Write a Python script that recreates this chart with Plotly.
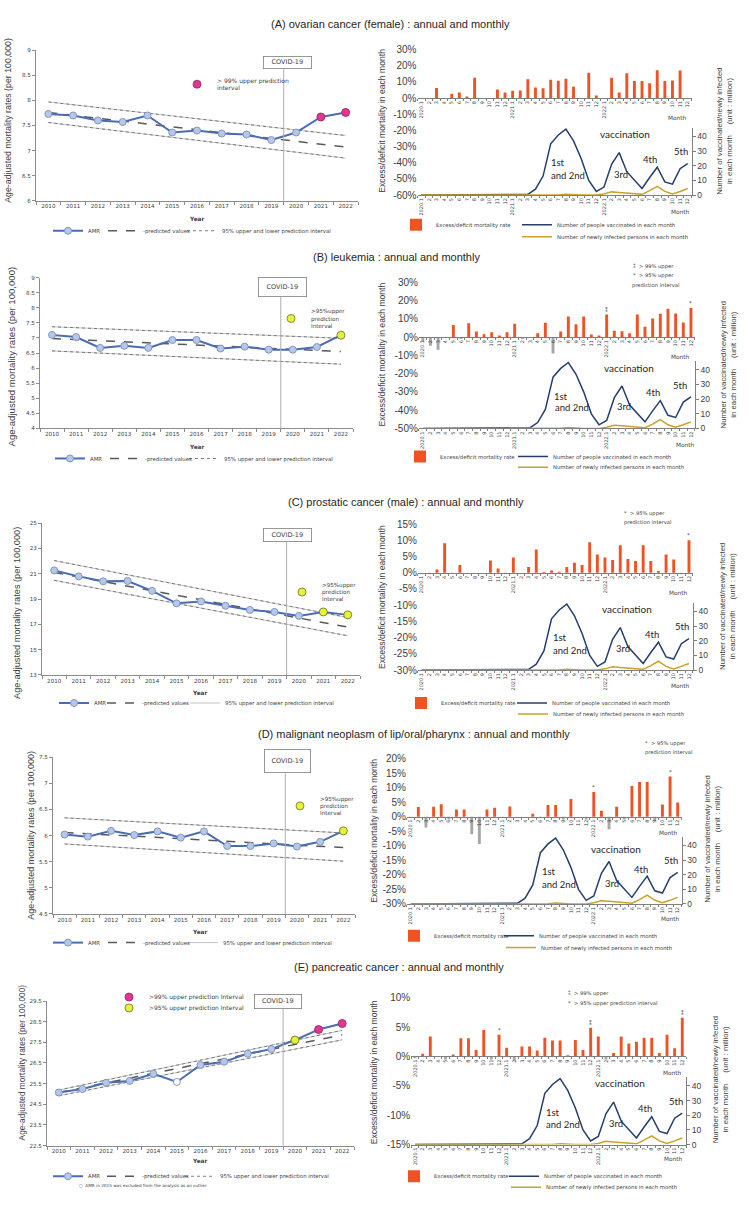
import plotly.graph_objects as go

W, H = 750, 1208
def X(px): return px / W
def Y(py): return 1 - py / H

# ---------------- data ----------------
years = list(range(2010, 2023))
months = (["2020.1"] + [str(m) for m in range(2, 13)] +
          ["2021.1"] + [str(m) for m in range(2, 13)] +
          ["2022.1"] + [str(m) for m in range(2, 13)])
covid_x = 2019.5
pred_years = [2010, 2022]

# (A) ovarian cancer
amr_A = [7.73, 7.70, 7.60, 7.57, 7.70, 7.36, 7.40, 7.34, 7.32, 7.21, 7.36, 7.67, 7.76]
pred_A = [7.76, 7.07]
upper_A = [7.97, 7.30]
lower_A = [7.56, 6.85]
sig99_A = [2021, 2022]
sig95_A = []
excess_A = [0, 0, 6.2, 0, 2.7, 3.5, 1.0, 12.5, 0, 0, 5.3, 3.5,
            4.5, 4.7, 11.7, 6.6, 6.0, 11.3, 10.7, 11.9, 7.0, 0, 15.6, 1.6,
            0, 12.5, 3.5, 15.4, 10.5, 10.5, 9.2, 17.2, 10.5, 10.9, 17.0, 0]
star_idx_A = []
star_sym_A = []

# (B) leukemia
amr_B = [7.10, 7.03, 6.67, 6.74, 6.67, 6.93, 6.93, 6.65, 6.71, 6.61, 6.61, 6.70, 7.09]
pred_B = [6.98, 6.55]
upper_B = [7.37, 6.99]
lower_B = [6.57, 6.13]
sig99_B = []
sig95_B = [2022]
excess_B = [-2.1, -4.8, -7.0, 0, 6.6, -1.0, 7.5, 3.0, 1.6, 2.7, 0.9, 2.7,
            7.3, -1.0, -0.5, 2.1, 7.9, -9.0, 3.0, 11.2, 7.0, 11.2, 1.4, 0.9,
            12.3, 3.4, 3.2, 2.1, 12.3, 5.7, 10.2, 12.7, 15.5, 12.9, 8.0, 15.9]
star_idx_B = [24, 35]
star_sym_B = ["⁑", "*"]

# (C) prostatic cancer
amr_C = [21.26, 20.79, 20.40, 20.43, 19.65, 18.66, 18.81, 18.47, 18.14, 17.98, 17.67, 17.98, 17.75]
pred_C = [21.10, 16.78]
upper_C = [22.04, 17.54]
lower_C = [20.48, 16.10]
sig99_C = []
sig95_C = [2021, 2022]
excess_C = [0, -0.5, 1.0, 9.1, -0.3, 2.4, 0, 0, 0, 3.8, 1.3, -0.5,
            4.7, 0, 1.8, 7.2, 0.2, 0.7, 0.3, 1.8, 3.1, 2.4, 9.4, 5.6,
            4.7, 3.9, 8.5, 4.2, 3.6, 8.5, 3.6, 0.5, 5.6, 4.1, -0.5, 10.0]
star_idx_C = [35]
star_sym_C = ["*"]

# (D) malignant neoplasm of lip/oral/pharynx
amr_D = [6.02, 5.98, 6.09, 6.01, 6.08, 5.96, 6.08, 5.80, 5.80, 5.85, 5.79, 5.88, 6.09]
pred_D = [6.06, 5.77]
upper_D = [6.34, 6.05]
lower_D = [5.84, 5.51]
sig99_D = []
sig95_D = [2022]
excess_D = [-0.5, 3.3, -3.7, 3.4, 4.3, -1.0, 2.5, 2.5, -6.0, -9.4, 2.5, 3.1,
            -0.5, 3.5, 0, 0, 1.0, -0.5, 4.0, 4.0, -1.0, 6.1, 0, -1.0,
            8.5, 2.0, -4.3, 3.4, -1.0, 10.5, 11.9, 11.9, -1.5, 4.2, 13.8, 4.9]
star_idx_D = [24, 34]
star_sym_D = ["*", "*"]

# (E) pancreatic cancer
amr_E = [25.07, 25.24, 25.54, 25.63, 25.98, 25.58, 26.40, 26.56, 26.95, 27.17, 27.61, 28.12, 28.41]
pred_E = [25.07, 27.86]
upper_E = [25.19, 28.08]
lower_E = [24.91, 27.62]
sig99_E = [2021, 2022]
sig95_E = [2020]
outlier_E = [2015]
excess_E = [-0.3, 0.45, 3.4, 0, -0.5, 0.35, 3.1, 3.1, 1.1, 4.5, -0.5, 3.7,
            1.5, -0.7, 1.7, 1.7, 1.0, 3.2, 2.7, 2.7, 0.2, 2.8, 1.1, 4.9,
            3.4, -0.5, 0.6, 3.4, 2.2, 2.5, 3.2, 3.2, 0.6, 3.7, 1.4, 6.6]
star_idx_E = [11, 23, 35]
star_sym_E = ["*", "⁑", "⁑"]

# vaccinated / newly infected persons (million), 2020.1 - 2022.12
vaccinated = [0, 0, 0, 0, 0, 0, 0, 0, 0, 0, 0, 0,
              0, 0, 0.5, 4, 13, 35, 41, 45, 37, 25, 10, 2.5,
              5.5, 21, 29, 16, 10, 4.5, 12, 19, 9, 7.5, 18, 21.5]
infected = [0, 0, 0, 0.01, 0.01, 0, 0.02, 0.03, 0.01, 0.02, 0.04, 0.08,
            0.15, 0.05, 0.03, 0.1, 0.15, 0.05, 0.1, 0.6, 0.2, 0.02, 0.01, 0.01,
            0.8, 2.2, 1.8, 1.4, 1.0, 0.5, 3.0, 6.0, 2.5, 0.8, 2.5, 4.5]
vacc_ticks = [0, 10, 20, 30, 40]

titles = ["(A) ovarian cancer (female) : annual and monthly",
          "(B) leukemia : annual and monthly",
          "(C) prostatic cancer (male) : annual and monthly",
          "(D) malignant neoplasm of lip/oral/pharynx : annual and monthly",
          "(E) pancreatic cancer : annual and monthly"]

# ---------------- styles ----------------
C_AMR = "#4A6CB3"
C_MK = "#B7C8E6"
C_MKL = "#7F96C8"
C_99 = "#E0388F"
C_95 = "#E4F23A"
C_BAR = "#F05323"
C_NEG = "#A6A6A6"
C_VAC = "#243F6B"
C_INF = "#C9A227"
C_TXT = "#404040"
C_AX = "#8C8C8C"
SANS = "Liberation Sans"
SMALL = "DejaVu Sans"
CAL = "Lato"

panels = [
    dict(amr=amr_A, pred=pred_A, up=upper_A, lo=lower_A, s99=sig99_A, s95=sig95_A, out=[],
         exc=excess_A, sidx=star_idx_A, ssym=star_sym_A, title=titles[0],
         tpos=(390, 18), lx=(36, 358), ly=(44.7, 196.7), lr=(6, 9), ldt=0.5,
         lyt=(8, 116, 8.8), year=(197, 215), leg=(227, 88, 143, 222), istyle="dot",
         covid=(263, 312, 51, 64),
         spec=[("99", 204, 79, "> 99% upper prediction<br>interval", 6.0)],
         rx=(417.5, 691.5), ry=(44, 191), rr=(-60, 30), rdt=10,
         ryt=(382, 116), r2t=(725, 127), mup=(677, 113), mlo=(680, 208),
         rleg=((436, 221), (557, 221), (557, 233)),
         vt=[("vaccination", 597.7, 129), ("1st", 549, 158.3), ("and 2nd", 549, 171),
             ("3rd", 612.3, 170), ("4th", 641, 155), ("5th", 671.7, 147)],
         sl=[]),
    dict(amr=amr_B, pred=pred_B, up=upper_B, lo=lower_B, s99=sig99_B, s95=sig95_B, out=[],
         exc=excess_B, sidx=star_idx_B, ssym=star_sym_B, title=titles[1],
         tpos=(396, 254), lx=(40, 353), ly=(274.3, 426.7), lr=(4, 9), ldt=0.5,
         lyt=(11, 354, 9.6), year=(197, 445), leg=(457, 90, 145, 224), istyle="dot",
         covid=(258, 307, 274, 294),
         spec=[("95", 298, 315.7, ">95%upper<br>prediction<br>Interval", 5.6)],
         rx=(418.9, 694.8), ry=(279, 426.7), rr=(-50, 30), rdt=10,
         ryt=(382, 352), r2t=(728, 363), mup=(680, 355), mlo=(685, 443),
         rleg=((440, 455), (553, 455), (553, 466)),
         vt=[("vaccination", 601.7, 365.7), ("1st", 551.7, 394), ("and 2nd", 552.7, 405.7),
             ("3rd", 615, 405), ("4th", 644.3, 390.7), ("5th", 671, 383)],
         sl=[("⁑  > 99% upper", 631, 263), ("*  > 95% upper", 631, 272),
             ("prediction interval", 630, 282)]),
    dict(amr=amr_C, pred=pred_C, up=upper_C, lo=lower_C, s99=sig99_C, s95=sig95_C, out=[],
         exc=excess_C, sidx=star_idx_C, ssym=star_sym_C, title=titles[2],
         tpos=(406, 501), lx=(42, 360), ly=(522.3, 675.7), lr=(13, 25), ldt=2,
         lyt=(17, 613, 9.2), year=(200, 694), leg=(704, 94, 142, 225), istyle="solid",
         covid=(263, 312, 527, 541),
         spec=[("95", 309, 592, ">95%upper<br>prediction<br>Interval", 5.6)],
         rx=(417.9, 692.8), ry=(523.3, 670.7), rr=(-30, 15), rdt=5,
         ryt=(382, 597), r2t=(728, 607), mup=(678, 592.7), mlo=(680, 687),
         rleg=((441, 704), (552, 704), (553, 715)),
         vt=[("vaccination", 600, 609.3), ("1st", 551, 637.7), ("and 2nd", 551, 650.7),
             ("3rd", 614.3, 649), ("4th", 642.7, 634.7), ("5th", 672.7, 626.7)],
         sl=[("*  > 95% upper", 622, 513), ("prediction interval", 622, 522)]),
    dict(amr=amr_D, pred=pred_D, up=upper_D, lo=lower_D, s99=sig99_D, s95=sig95_D, out=[],
         exc=excess_D, sidx=star_idx_D, ssym=star_sym_D, title=titles[3],
         tpos=(414, 735), lx=(53, 355), ly=(758.7, 917.1), lr=(4.5, 7.5), ldt=0.5,
         lyt=(31, 838, 9.0), year=(200, 935), leg=(946, 88, 143, 223), istyle="solid",
         covid=(264, 311, 751, 775),
         spec=[("95", 307, 808, ">95%upper<br>prediction<br>Interval", 5.6)],
         rx=(406.9, 681.5), ry=(760, 907), rr=(-30, 20), rdt=5,
         ryt=(374, 833), r2t=(713, 842), mup=(668, 835), mlo=(670, 922),
         rleg=((434, 939), (539, 939), (541, 951)),
         vt=[("vaccination", 589, 851), ("1st", 540, 874.3), ("and 2nd", 540, 887.3),
             ("3rd", 602.7, 886), ("4th", 631.7, 871.7), ("5th", 662.3, 863.3)],
         sl=[("*  > 95% upper", 643, 745), ("prediction interval", 643, 754)]),
    dict(amr=amr_E, pred=pred_E, up=upper_E, lo=lower_E, s99=sig99_E, s95=sig95_E, out=outlier_E,
         exc=excess_E, sidx=star_idx_E, ssym=star_sym_E, title=titles[4],
         tpos=(399, 971), lx=(47, 354), ly=(1005, 1151), lr=(22.5, 29.5), ldt=1,
         lyt=(22, 1067, 8.3), year=(200, 1167), leg=(1182, 88, 142, 220), istyle="dot",
         covid=(254, 302, 998, 1013),
         spec=[("99", 136, 1001, ">99% upper prediction Interval", 6.0),
               ("95", 136, 1012, ">95% upper prediction Interval", 6.0)],
         rx=(411.2, 686.1), ry=(1001.7, 1150), rr=(-15, 10), rdt=5,
         ryt=(374, 1077), r2t=(720, 1085), mup=(672, 1077.7), mlo=(673, 1165),
         rleg=((434, 1182), (544, 1182), (546, 1193)),
         vt=[("vaccination", 593.3, 1088.3), ("1st", 544.3, 1117.3), ("and 2nd", 544.3, 1130),
             ("3rd", 607.3, 1129), ("4th", 636, 1114), ("5th", 666.7, 1106.7)],
         sl=[("⁑  > 99% upper", 566, 997), ("*  > 95% upper prediction interval", 566, 1007.7)]),
]

# ---------------- build ----------------
fig = go.Figure()
layout = dict(width=W, height=H, margin=dict(l=0, r=0, t=0, b=0),
              paper_bgcolor="white", plot_bgcolor="rgba(0,0,0,0)",
              barmode="overlay", showlegend=True, hovermode=False,
              font=dict(family=SMALL, size=6, color=C_TXT))
annotations = []
shapes = []
legn = [0]


def ref(k, n):
    return k if n == 1 else f"{k}{n}"


def axn(k, n):
    return f"{k}axis" if n == 1 else f"{k}axis{n}"


def new_legend(text_x, ypx, size=5.4, orient="h"):
    """legend whose item text starts at text_x (px)"""
    legn[0] += 1
    name = "legend" if legn[0] == 1 else f"legend{legn[0]}"
    layout[name] = dict(x=X(text_x - 40), y=Y(ypx), xanchor="left", yanchor="middle",
                        orientation=orient, bgcolor="rgba(0,0,0,0)", borderwidth=0,
                        itemwidth=30, tracegroupgap=0, itemclick=False,
                        font=dict(family=SMALL, size=size, color=C_TXT))
    return name


def text(xpx, ypx, s, size=6, family=SMALL, color=C_TXT, xanchor="center", angle=0):
    annotations.append(dict(x=X(xpx), y=Y(ypx), xref="paper", yref="paper", text=s,
                            showarrow=False, xanchor=xanchor, yanchor="middle",
                            textangle=angle, font=dict(family=family, size=size, color=color)))


idx = list(range(len(months)))

for r, P in enumerate(panels):
    n1, n2, n3 = 3 * r + 1, 3 * r + 2, 3 * r + 3
    xl, yl = ref("x", n1), ref("y", n1)

    # ---- title ----
    text(P["tpos"][0], P["tpos"][1], P["title"], size=11, family=SANS, color="#262626")

    # ---- left annual panel axes ----
    lr0, lr1 = P["lr"]
    nt = int(round((lr1 - lr0) / P["ldt"])) + 1
    ltv = [lr0 + i * P["ldt"] for i in range(nt)]
    layout[axn("x", n1)] = dict(domain=[X(P["lx"][0]), X(P["lx"][1])], anchor=yl,
                                range=[years[0] - 0.5, years[-1] + 0.5],
                                tickvals=years, ticktext=[str(y) for y in years], ticks="",
                                showline=True, linecolor=C_AX, linewidth=1,
                                showgrid=False, zeroline=False,
                                tickfont=dict(family=SMALL, size=5.6, color=C_TXT),
                                minor=dict(tickvals=[y - 0.5 for y in years] + [years[-1] + 0.5],
                                           ticks="outside", ticklen=3, tickcolor=C_AX))
    layout[axn("y", n1)] = dict(domain=[Y(P["ly"][1]), Y(P["ly"][0])], anchor=xl,
                                range=[lr0, lr1], tickvals=ltv,
                                ticktext=[f"{v:g}" for v in ltv], ticks="outside",
                                ticklen=3, tickcolor=C_AX,
                                showline=True, linecolor=C_AX, linewidth=1,
                                showgrid=False, zeroline=False,
                                tickfont=dict(family=SMALL, size=5.6, color=C_TXT))

    ly_, t_amr, t_pred, t_int = P["leg"]
    lgA = new_legend(t_amr, ly_, size=5.4)
    lgP = new_legend(t_pred, ly_, size=5.4)
    lgI = new_legend(t_int, ly_, size=5.4)
    solid_leg = P["istyle"] == "solid"
    for k, band in enumerate([P["up"], P["lo"]]):
        fig.add_trace(go.Scatter(x=pred_years, y=band, mode="lines", xaxis=xl, yaxis=yl,
                                 line=dict(color="#C4C4C4", width=1),
                                 name="95% upper and lower prediction interval",
                                 legend=lgI, showlegend=(solid_leg and k == 0),
                                 hoverinfo="skip"))
    for k, band in enumerate([P["up"], P["lo"]]):
        fig.add_trace(go.Scatter(x=pred_years, y=band, mode="lines", xaxis=xl, yaxis=yl,
                                 line=dict(color="#6E6E6E", width=0.9, dash="dot"),
                                 name="95% upper and lower prediction interval",
                                 legend=lgI, showlegend=((not solid_leg) and k == 0),
                                 hoverinfo="skip"))
    fig.add_trace(go.Scatter(x=pred_years, y=P["pred"], mode="lines", xaxis=xl, yaxis=yl,
                             line=dict(color="#595959", width=1.5, dash="dash"),
                             name="-predicted values", legend=lgP))
    fills = ["white" if y in P["out"] else C_MK for y in years]
    fig.add_trace(go.Scatter(x=years, y=P["amr"], mode="lines+markers", xaxis=xl, yaxis=yl,
                             line=dict(color=C_AMR, width=2),
                             marker=dict(size=7, color=fills, line=dict(color=C_MKL, width=1)),
                             name="AMR", legend=lgA))

    # special markers (> prediction interval)
    for kind, mx, my, lab, fs in P["spec"]:
        sel = P["s99"] if kind == "99" else P["s95"]
        col = C_99 if kind == "99" else C_95
        lcol = "#A0205F" if kind == "99" else "#6E7320"
        lg = new_legend(mx + 13, my, size=fs, orient="v")
        fig.add_trace(go.Scatter(x=sel, y=[P["amr"][years.index(y)] for y in sel],
                                 mode="markers", xaxis=xl, yaxis=yl,
                                 marker=dict(size=8, color=col, line=dict(color=lcol, width=0.8)),
                                 name=lab, legend=lg))

    # COVID-19 box and line
    c0, c1, c2, c3 = P["covid"]
    annotations.append(dict(x=X((c0 + c1) / 2), y=Y((c2 + c3) / 2), xref="paper", yref="paper",
                            text="COVID-19", showarrow=False, xanchor="center", yanchor="middle",
                            font=dict(family=SMALL, size=6.5, color=C_TXT),
                            bordercolor="#7F7F7F", borderwidth=0.8, borderpad=0,
                            width=c1 - c0 - 2, height=c3 - c2 - 2, bgcolor="white"))
    shapes.append(dict(type="line", xref=xl, yref="paper", x0=covid_x, x1=covid_x,
                       y0=Y(P["ly"][1]), y1=Y(c3), line=dict(color="#AFAFAF", width=1)))

    text(P["lyt"][0], P["lyt"][1], "Age-adjusted mortality rates (per 100,000)",
         size=P["lyt"][2], family=SANS, angle=-90)
    text(P["year"][0], P["year"][1], "<b>Year</b>", size=5.8)

    # ---- right monthly panel ----
    rx0, rx1 = P["rx"]
    ry0, ry1 = P["ry"]
    rr0, rr1 = P["rr"]
    zero_px = ry0 + rr1 / (rr1 - rr0) * (ry1 - ry0)
    ntr = int(round((rr1 - rr0) / P["rdt"])) + 1
    ptv = [rr1 - i * P["rdt"] for i in range(ntr)]
    vmax = 46
    vtop = ry1 - vmax * 1.48
    month_common = dict(domain=[X(rx0), X(rx1)], range=[-0.5, len(months) - 0.5],
                        tickvals=idx, ticktext=months, tickangle=-90, ticks="",
                        showline=True, linecolor="#7F7F7F", linewidth=1,
                        showgrid=False, zeroline=False,
                        tickfont=dict(family=SMALL, size=5.0, color=C_TXT),
                        minor=dict(tickvals=[i - 0.5 for i in idx] + [len(months) - 0.5],
                                   ticks="outside", ticklen=2, tickcolor="#7F7F7F"))
    layout[axn("x", n2)] = dict(anchor="free", position=Y(zero_px), **month_common)
    layout[axn("y", n2)] = dict(domain=[Y(ry1), Y(ry0)], anchor=ref("x", n2),
                                range=[rr0, rr1], tickvals=ptv,
                                ticktext=[f"{v}%" for v in ptv], ticks="", showline=False,
                                showgrid=False, zeroline=False,
                                tickfont=dict(family=SANS, size=10, color=C_TXT))
    layout[axn("x", n3)] = dict(anchor=ref("y", n3), **month_common)
    layout[axn("y", n3)] = dict(domain=[Y(ry1), Y(vtop)], anchor=ref("x", n3), side="right",
                                range=[0, vmax], tickvals=vacc_ticks,
                                ticktext=[str(v) for v in vacc_ticks],
                                ticks="outside", ticklen=3, tickcolor="#7F7F7F",
                                showline=True, linecolor="#7F7F7F", linewidth=1,
                                showgrid=False, zeroline=False,
                                tickfont=dict(family=SANS, size=8.5, color=C_TXT))

    lgB = new_legend(P["rleg"][0][0], P["rleg"][0][1], size=5.3)
    lgV = new_legend(P["rleg"][1][0], P["rleg"][1][1], size=5.3)
    lgN = new_legend(P["rleg"][2][0], P["rleg"][2][1], size=5.3)

    fig.add_trace(go.Bar(x=idx, y=[v if v > 0 else None for v in P["exc"]],
                         xaxis=ref("x", n2), yaxis=ref("y", n2), width=0.38,
                         marker=dict(color=C_BAR, line=dict(width=0)),
                         name="Excess/deficit mortality rate", legend=lgB))
    fig.add_trace(go.Bar(x=idx, y=[v if v < 0 else None for v in P["exc"]],
                         xaxis=ref("x", n2), yaxis=ref("y", n2), width=0.38,
                         marker=dict(color=C_NEG, line=dict(width=0)),
                         name="deficit", showlegend=False, legend=lgB))
    fig.add_trace(go.Scatter(x=idx, y=vaccinated, mode="lines",
                             xaxis=ref("x", n3), yaxis=ref("y", n3),
                             line=dict(color=C_VAC, width=1.5),
                             name="Number of people vaccinated in each month", legend=lgV))
    fig.add_trace(go.Scatter(x=idx, y=infected, mode="lines",
                             xaxis=ref("x", n3), yaxis=ref("y", n3),
                             line=dict(color=C_INF, width=1.5),
                             name="Number of newly infected persons in each month", legend=lgN))

    # stars above significant bars
    for i, s in zip(P["sidx"], P["ssym"]):
        annotations.append(dict(x=i, y=P["exc"][i], xref=ref("x", n2), yref=ref("y", n2),
                                text=s, showarrow=False, yanchor="bottom", yshift=0,
                                font=dict(family=SMALL, size=5.5, color=C_TXT)))
    for s, sx, sy in P["sl"]:
        text(sx, sy, s, size=5.2, xanchor="left")

    for s, tx, ty in P["vt"]:
        text(tx, ty, s, size=10 if s == "vaccination" else 9.5, family=CAL,
             color="#262626", xanchor="left")

    text(P["mup"][0], P["mup"][1], "Month", size=5.8)
    text(P["mlo"][0], P["mlo"][1], "Month", size=5.8)
    text(P["ryt"][0], P["ryt"][1], "Excess/deficit mortality in each month",
         size=8.6, family=SANS, angle=-90)
    text(P["r2t"][0], P["r2t"][1],
         "Number of vaccinated/newly infected<br>in each month     (unit : million)",
         size=7.8, family=SANS, angle=-90)

text(77, 1191, "○  AMR in 2015 was excluded from the analysis as an outlier",
     size=4.2, xanchor="left")

layout["annotations"] = annotations
layout["shapes"] = shapes
fig.update_layout(**layout)
fig.write_html("out.html", config={"displayModeBar": False, "staticPlot": True},
               post_script="document.body.style.margin='0';")
